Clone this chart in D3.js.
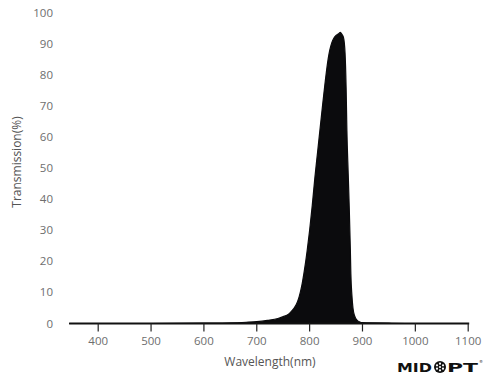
<!DOCTYPE html>
<html><head><meta charset="utf-8">
<script src="https://cdn.jsdelivr.net/npm/d3@7"></script>
<style>html,body{margin:0;padding:0;background:#fff}</style>
</head><body>
<svg id="c" width="500" height="388"></svg>
<script>
const wavelengths = [345, 400, 500, 600, 650, 680, 700, 720, 740, 750, 760, 765, 770, 775, 780, 785, 790, 795, 800, 805, 810, 815, 820, 825, 830, 835, 838, 842, 846, 850, 855, 858, 861, 864, 867, 869, 870.5, 873, 875, 877, 878, 880, 882, 885, 890, 895, 900, 920, 950, 1000, 1100];
const transmission = [0, 0, 0, 0.1, 0.2, 0.4, 0.6, 1.0, 1.6, 2.2, 3.0, 3.8, 4.8, 6.2, 8.5, 12, 17, 23, 30, 38, 47, 55, 63, 71, 78.5, 85, 87.8, 90.3, 91.8, 92.6, 93.2, 93.6, 93, 92, 87, 76, 62, 48, 37, 24, 16, 9, 5, 2.5, 1, 0.5, 0.3, 0.2, 0.1, 0, 0];
const xTicks = [400, 500, 600, 700, 800, 900, 1000, 1100];
const yTicks = [0, 10, 20, 30, 40, 50, 60, 70, 80, 90, 100];

const svg = d3.select("#c");
const x = d3.scaleLinear().domain([400, 1100]).range([98.2, 468.2]);
const y = d3.scaleLinear().domain([0, 100]).range([323.5, 12.5]);
const data = wavelengths.map((w, i) => ({w, t: transmission[i]}));

const area = d3.area().x(d => x(d.w)).y0(y(0)).y1(d => y(d.t)).curve(d3.curveMonotoneX);
svg.append("path").datum(data).attr("d", area).attr("fill", "#0b0b0d").attr("stroke", "#0b0b0d").attr("stroke-width", 1.2);

// x axis
const xg = svg.append("g").attr("transform", `translate(0,${y(0)})`);
xg.append("line").attr("x1", x(345)).attr("x2", x(1100) + 1).attr("y1", 0).attr("y2", 0).attr("stroke", "#111").attr("stroke-width", 2);
xg.selectAll("line.tk").data(xTicks).join("line").attr("class", "tk")
  .attr("x1", d => x(d)).attr("x2", d => x(d)).attr("y1", 0).attr("y2", 8)
  .attr("stroke", "#222").attr("stroke-width", 1.2);
xg.selectAll("text").data(xTicks).join("text")
  .attr("x", d => x(d)).attr("y", 21).attr("text-anchor", "middle")
  .attr("font-family", "Open Sans").attr("font-size", 11.5).attr("fill", "#6e6e6e")
  .text(d => d);

// y axis labels
svg.append("g").selectAll("text").data(yTicks).join("text")
  .attr("x", 53).attr("y", d => y(d) + 4).attr("text-anchor", "end")
  .attr("font-family", "Open Sans").attr("font-size", 11.5).attr("fill", "#6e6e6e")
  .text(d => d);

// titles
svg.append("text").attr("x", 270).attr("y", 366).attr("text-anchor", "middle")
  .attr("font-family", "Open Sans").attr("font-size", 12).attr("fill", "#555")
  .text("Wavelength(nm)");
svg.append("text").attr("transform", "translate(21,162) rotate(-90)").attr("text-anchor", "middle")
  .attr("font-family", "Open Sans").attr("font-size", 12).attr("fill", "#555")
  .text("Transmission(%)");

// logo
const logo = svg.append("g").attr("transform", "translate(397,372)");
logo.append("text").attr("x", 0).attr("y", 0).attr("font-family", "DejaVu Sans").attr("font-weight", "bold")
  .attr("font-size", 13).attr("fill", "#111").attr("textLength", 35).attr("lengthAdjust", "spacingAndGlyphs").text("MID");
logo.append("circle").attr("cx", 43).attr("cy", -5).attr("r", 6).attr("fill", "#111");
const dots = [[0,0],[0,-3.3],[0,3.3],[-3,-1.7],[3,-1.7],[-3,1.7],[3,1.7]];
logo.selectAll("circle.d").data(dots).join("circle").attr("class", "d")
  .attr("cx", d => 43 + d[0]).attr("cy", d => -5 + d[1]).attr("r", 1.1).attr("fill", "#fff");
logo.append("text").attr("x", 50).attr("y", 0).attr("font-family", "DejaVu Sans").attr("font-weight", "bold")
  .attr("font-size", 13).attr("fill", "#111").attr("textLength", 31).attr("lengthAdjust", "spacingAndGlyphs").text("PT");
logo.append("text").attr("x", 82).attr("y", -9).attr("font-family", "DejaVu Sans")
  .attr("font-size", 4).attr("fill", "#111").text("®");
</script>
</body></html>
